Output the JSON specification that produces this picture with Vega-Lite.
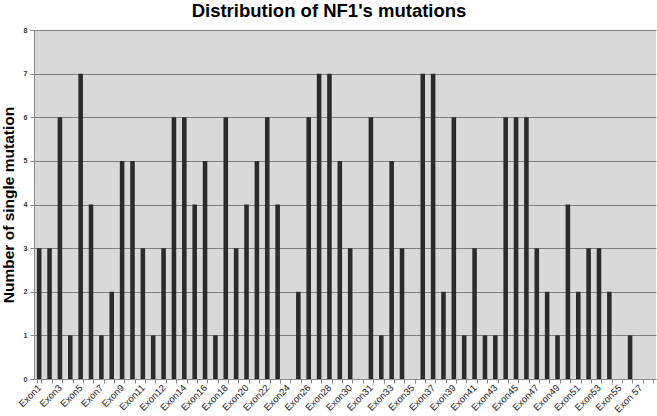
{
  "$schema": "https://vega.github.io/schema/vega-lite/v6.json",
  "width": 622,
  "height": 349,
  "autosize": {"type": "none"},
  "padding": {"left": 34, "top": 30, "right": 1, "bottom": 37},
  "background": "white",
  "title": {"text": "Distribution of NF1's mutations", "font": "Liberation Sans", "fontSize": 18.5, "fontWeight": "bold", "color": "#000000", "anchor": "middle", "frame": "group", "dx": -16, "offset": 6},
  "config": {"view": {"fill": "#d9d9d9", "stroke": null}},
  "data": {"values": [
    {"exon": "Exon1", "count": 3}, {"exon": "Exon2", "count": 3}, {"exon": "Exon3", "count": 6}, {"exon": "Exon4", "count": 1},
    {"exon": "Exon5", "count": 7}, {"exon": "Exon6", "count": 4}, {"exon": "Exon7", "count": 1}, {"exon": "Exon8", "count": 2},
    {"exon": "Exon9", "count": 5}, {"exon": "Exon10", "count": 5}, {"exon": "Exon11", "count": 3}, {"exon": "Exon11a", "count": 1},
    {"exon": "Exon12", "count": 3}, {"exon": "Exon13", "count": 6}, {"exon": "Exon14", "count": 6}, {"exon": "Exon15", "count": 4},
    {"exon": "Exon16", "count": 5}, {"exon": "Exon17", "count": 1}, {"exon": "Exon18", "count": 6}, {"exon": "Exon19", "count": 3},
    {"exon": "Exon20", "count": 4}, {"exon": "Exon21", "count": 5}, {"exon": "Exon22", "count": 6}, {"exon": "Exon23", "count": 4},
    {"exon": "Exon24", "count": 0}, {"exon": "Exon25", "count": 2}, {"exon": "Exon26", "count": 6}, {"exon": "Exon27", "count": 7},
    {"exon": "Exon28", "count": 7}, {"exon": "Exon29", "count": 5}, {"exon": "Exon30", "count": 3}, {"exon": "Exon30a", "count": 0},
    {"exon": "Exon31", "count": 6}, {"exon": "Exon32", "count": 1}, {"exon": "Exon33", "count": 5}, {"exon": "Exon34", "count": 3},
    {"exon": "Exon35", "count": 0}, {"exon": "Exon36", "count": 7}, {"exon": "Exon37", "count": 7}, {"exon": "Exon38", "count": 2},
    {"exon": "Exon39", "count": 6}, {"exon": "Exon40", "count": 1}, {"exon": "Exon41", "count": 3}, {"exon": "Exon42", "count": 1},
    {"exon": "Exon43", "count": 1}, {"exon": "Exon44", "count": 6}, {"exon": "Exon45", "count": 6}, {"exon": "Exon46", "count": 6},
    {"exon": "Exon47", "count": 3}, {"exon": "Exon48", "count": 2}, {"exon": "Exon49", "count": 1}, {"exon": "Exon50", "count": 4},
    {"exon": "Exon51", "count": 2}, {"exon": "Exon52", "count": 3}, {"exon": "Exon53", "count": 3}, {"exon": "Exon54", "count": 2},
    {"exon": "Exon55", "count": 0}, {"exon": "Exon56", "count": 1}, {"exon": "Exon 57", "count": 0}, {"exon": "Exon 58", "count": 0}
  ]},
  "mark": {"type": "bar", "color": "#2b2b2b"},
  "encoding": {
    "x": {
      "field": "exon", "type": "nominal", "sort": null,
      "scale": {"paddingInner": 0.56, "paddingOuter": 0.28},
      "axis": {
        "title": null, "labelAngle": -45, "labelAlign": "right", "labelBaseline": "middle",
        "labelFont": "Liberation Sans", "labelFontSize": 9.5, "labelColor": "#222222",
        "labelExpr": "indexof(['Exon1','Exon3','Exon5','Exon7','Exon9','Exon11','Exon12','Exon14','Exon16','Exon18','Exon20','Exon22','Exon24','Exon26','Exon28','Exon30','Exon31','Exon33','Exon35','Exon37','Exon39','Exon41','Exon43','Exon45','Exon47','Exon49','Exon51','Exon53','Exon55','Exon 57'], datum.value) >= 0 ? datum.value : ''",
        "labelOverlap": false, "labelPadding": 3,
        "tickBand": "extent", "tickColor": "#888888", "tickSize": 4, "domainColor": "#888888"
      }
    },
    "y": {
      "field": "count", "type": "quantitative",
      "scale": {"domain": [0, 8], "nice": false},
      "axis": {
        "title": "Number of single mutation", "titleFont": "Liberation Sans", "titleFontSize": 15.5, "titleFontWeight": "bold", "titleColor": "#000000", "titlePadding": 7,
        "values": [0, 1, 2, 3, 4, 5, 6, 7, 8],
        "labelFont": "Liberation Sans", "labelFontSize": 7, "labelFontWeight": "bold", "labelColor": "#333333", "labelPadding": 3,
        "grid": true, "gridColor": "#7f7f7f", "gridOpacity": 1,
        "domainColor": "#888888", "tickColor": "#888888", "tickSize": 4
      }
    }
  }
}
